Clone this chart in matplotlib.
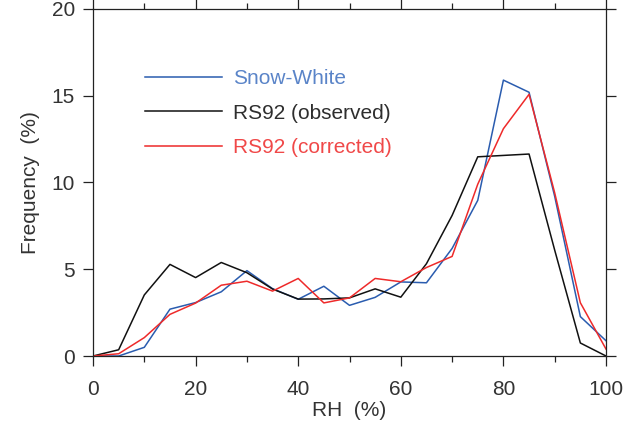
import numpy as np
import matplotlib
matplotlib.use('Agg')
from matplotlib import pyplot as plt

plt.rcParams['font.family'] = ['Liberation Sans', 'DejaVu Sans']

# relative humidity bins (%)
rh = [0, 5, 10, 15, 20, 25, 30, 35, 40, 45, 50,
      55, 60, 65, 70, 75, 80, 85, 90, 95, 100]

snow_white = [0.0, 0.0, 0.5, 2.7, 3.08, 3.7, 4.92, 3.88, 3.27, 4.02, 2.92,
              3.38, 4.27, 4.22, 6.2, 8.97, 15.9, 15.2, 9.2, 2.27, 0.88]
rs92_obs = [0.0, 0.36, 3.52, 5.28, 4.52, 5.39, 4.8, 3.86, 3.28, 3.29, 3.35,
            3.87, 3.39, 5.32, 8.1, 11.48, 11.56, 11.64, 6.1, 0.75, 0.0]
rs92_corr = [0.0, 0.13, 1.06, 2.4, 3.05, 4.08, 4.31, 3.74, 4.47, 3.06, 3.35,
             4.47, 4.28, 5.1, 5.74, 9.9, 13.1, 15.08, 9.4, 3.07, 0.4]

labels = ['Snow-White', 'RS92 (observed)', 'RS92 (corrected)']
line_colors = ['#2a5caf', '#111111', '#ee2a2a']
text_colors = ['#5a84c8', '#2e2e2e', '#f04848']

txt = '#333333'

fig = plt.figure(figsize=(6.41, 4.38), dpi=100)
ax = fig.add_axes([0.1451, 0.1872, 0.8003, 0.7923])

for ys, lab, c in zip([snow_white, rs92_obs, rs92_corr], labels, line_colors):
    ax.plot(rh, ys, color=c, lw=1.1, label=lab)

ax.set_xlim(0, 100)
ax.set_ylim(0, 20)
ax.set_xticks(np.arange(0, 101, 20))
ax.set_xticks(np.arange(10, 100, 20), minor=True)
ax.set_yticks(np.arange(0, 21, 5))

ax.tick_params(axis='both', which='major', direction='out', length=7,
               width=0.9, color='#222222', labelsize=15, labelcolor=txt)
ax.tick_params(axis='x', which='major', top=True, pad=10)
ax.tick_params(axis='x', which='minor', direction='out', length=4,
               width=0.9, color='#222222', top=True)
ax.tick_params(axis='y', which='major', right=True, pad=6)

for s in ax.spines.values():
    s.set_linewidth(0.9)
    s.set_color('#222222')

ax.set_xlabel('RH  (%)', fontsize=15, color=txt, labelpad=2)
ax.set_ylabel('Frequency  (%)', fontsize=15, color=txt, labelpad=8)

leg = ax.legend(loc='upper left', bbox_to_anchor=(0.085, 0.85), frameon=False,
                fontsize=15, handlelength=3.7, handletextpad=0.55,
                labelspacing=0.74, borderaxespad=0)
for t, c in zip(leg.get_texts(), text_colors):
    t.set_color(c)

fig.savefig('out.png', dpi=100)
